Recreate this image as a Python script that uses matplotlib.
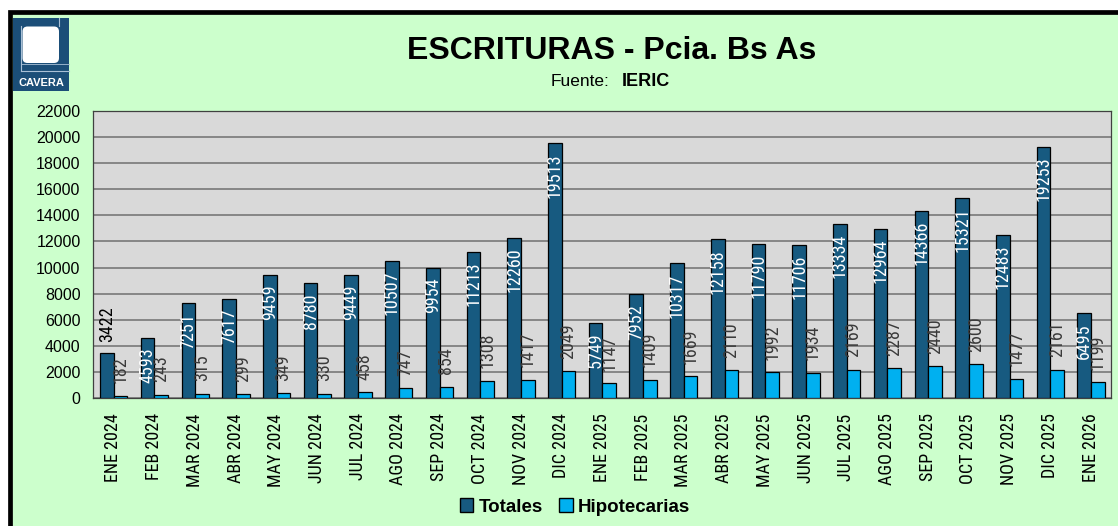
import matplotlib
matplotlib.use("Agg")
import matplotlib.pyplot as plt
from matplotlib.patches import Rectangle, FancyBboxPatch, Patch
from matplotlib import font_manager
import numpy as np

# ---- data -----------------------------------------------------------------
meses = ["ENE 2024", "FEB 2024", "MAR 2024", "ABR 2024", "MAY 2024", "JUN 2024",
         "JUL 2024", "AGO 2024", "SEP 2024", "OCT 2024", "NOV 2024", "DIC 2024",
         "ENE 2025", "FEB 2025", "MAR 2025", "ABR 2025", "MAY 2025", "JUN 2025",
         "JUL 2025", "AGO 2025", "SEP 2025", "OCT 2025", "NOV 2025", "DIC 2025",
         "ENE 2026"]
totales = [3422, 4593, 7251, 7617, 9459, 8780, 9449, 10507, 9954, 11213, 12260, 19513,
           5749, 7952, 10317, 12158, 11790, 11706, 13334, 12964, 14366, 15321, 12483, 19253,
           6495]
hipotecarias = [182, 243, 315, 299, 349, 330, 458, 747, 854, 1308, 1417, 2049,
                1147, 1409, 1669, 2110, 1992, 1934, 2169, 2287, 2440, 2600, 1477, 2161,
                1199]
y_ticks = list(range(0, 22001, 2000))

# ---- fonts ----------------------------------------------------------------
plt.rcParams["font.family"] = ["Liberation Sans", "DejaVu Sans"]


def narrow_font():
    """Pick a narrow sans face if one is installed, else plain Liberation Sans."""
    fonts = font_manager.fontManager.ttflist
    for key in ("LiberationSansNarrow-Regular", "ArialNarrow", "RobotoCondensed-Regular",
                "OpenSans_Condensed-Regular", "OpenSansCondensed", "NotoSans-Condensed",
                "NotoSansDisplay-Condensed"):
        for f in fonts:
            if key.lower() in f.fname.replace(" ", "").lower() and f.style == "normal":
                return font_manager.FontProperties(fname=f.fname), True
    for f in fonts:
        if f.stretch in ("condensed", "semi-condensed", 400) and f.style == "normal" \
                and f.weight in (400, "normal", "regular") \
                and any(n in f.name for n in ("Liberation Sans", "Roboto", "Noto Sans", "Open Sans")):
            return font_manager.FontProperties(fname=f.fname), True
    return font_manager.FontProperties(family="Liberation Sans"), False


NARROW_FP, IS_NARROW = narrow_font()
ROT_SIZE = 13 if IS_NARROW else 11.5


def rot_fp():
    fp = NARROW_FP.copy()
    fp.set_size(ROT_SIZE)
    return fp


W, H = 1118, 526
fig = plt.figure(figsize=(W / 100, H / 100), dpi=100, facecolor="white")

# ---- frame, background and logo (pixel coordinates) ------------------------
bg = fig.add_axes([0, 0, 1, 1], zorder=0)
bg.set_xlim(0, W)
bg.set_ylim(H, 0)
bg.axis("off")
bg.add_patch(Rectangle((9.5, 12), W, H, facecolor="#CCFFCC", edgecolor="black",
                       linewidth=3.4))

logo_blue = "#1B4E78"
bg.add_patch(Rectangle((13, 18), 56, 73, facecolor=logo_blue, edgecolor="none"))
bg.add_patch(FancyBboxPatch((22.5, 26.5), 36.5, 36.5,
                            boxstyle="round,pad=0,rounding_size=5",
                            facecolor="white", edgecolor="none"))
bg.plot([20.5, 20.5], [26, 71], color="#A9C0D6", lw=0.8)
bg.plot([20.5, 69], [71, 71], color="#A9C0D6", lw=0.8)
bg.plot([59, 59], [18, 26], color="#A9C0D6", lw=0.8)
bg.plot([20.5, 69], [63.5, 63.5], color="#A9C0D6", lw=0.6)
bg.text(41, 82.5, "CAVERA", color="white", fontsize=8, fontweight="bold",
        ha="center", va="center")

# titles
bg.text(612, 51, "ESCRITURAS - Pcia. Bs As", fontsize=23, fontweight="bold",
        ha="center", va="center", color="black")
bg.text(610, 82, "Fuente:", fontsize=12.5, ha="right", va="center", color="black")
bg.text(622, 82, "IERIC", fontsize=13, fontweight="bold", ha="left", va="center",
        color="black")

# ---- main chart -----------------------------------------------------------
ax = fig.add_axes([93 / W, 1 - 398 / H, (1111 - 93) / W, (398 - 111) / H], zorder=2)
ax.set_facecolor("#D9D9D9")

x = np.arange(len(meses))
w = 0.335
c_tot = "#175A80"
c_hip = "#00B0F0"

b1 = ax.bar(x - w / 2 + 0.01, totales, width=w, color=c_tot, edgecolor="black",
            linewidth=0.9, zorder=3)
b2 = ax.bar(x + w / 2 + 0.01, hipotecarias, width=w, color=c_hip, edgecolor="black",
            linewidth=0.9, zorder=3)

ax.set_xlim(-0.5, len(meses) - 0.5)
ax.set_ylim(0, 22000)
ax.set_yticks(y_ticks)
ax.set_yticklabels([str(v) for v in y_ticks], fontsize=11.5)
ax.yaxis.grid(True, color="#808080", linewidth=1.3, zorder=1)
ax.set_axisbelow(True)
ax.tick_params(axis="y", length=0, pad=9)
ax.tick_params(axis="x", length=0, pad=11)
ax.set_xticks(x)
ax.set_xticklabels(meses, rotation=90, fontproperties=rot_fp())
for s in ax.spines.values():
    s.set_color("#404040")
    s.set_linewidth(0.9)

# value labels
for rect, v in zip(b1, totales):
    cx = rect.get_x() + rect.get_width() / 2
    if v < 4000:
        ax.annotate(str(v), (cx, v), xytext=(0, 8), textcoords="offset points",
                    rotation=90, ha="center", va="bottom", color="black",
                    fontproperties=rot_fp(), zorder=4)
    else:
        ax.annotate(str(v), (cx, v), xytext=(0, -7), textcoords="offset points",
                    rotation=90, ha="center", va="top", color="white",
                    fontproperties=rot_fp(), zorder=4)
for rect, v in zip(b2, hipotecarias):
    cx = rect.get_x() + rect.get_width() / 2
    ax.annotate(str(v), (cx, v), xytext=(0, 9), textcoords="offset points",
                rotation=90, ha="center", va="bottom", color="#3A3A3A",
                fontproperties=rot_fp(), zorder=4)

# legend
handles = [Patch(facecolor=c_tot, edgecolor="black", label="Totales"),
           Patch(facecolor=c_hip, edgecolor="black", label="Hipotecarias")]
fig.legend(handles=handles, loc="center", bbox_to_anchor=(575 / W, 1 - 507 / H),
           ncol=2, frameon=False, prop={"size": 13.5, "weight": "bold"},
           handlelength=0.7, handleheight=0.7, handletextpad=0.3,
           columnspacing=0.9)

fig.savefig("out.png", dpi=100, facecolor=fig.get_facecolor())
